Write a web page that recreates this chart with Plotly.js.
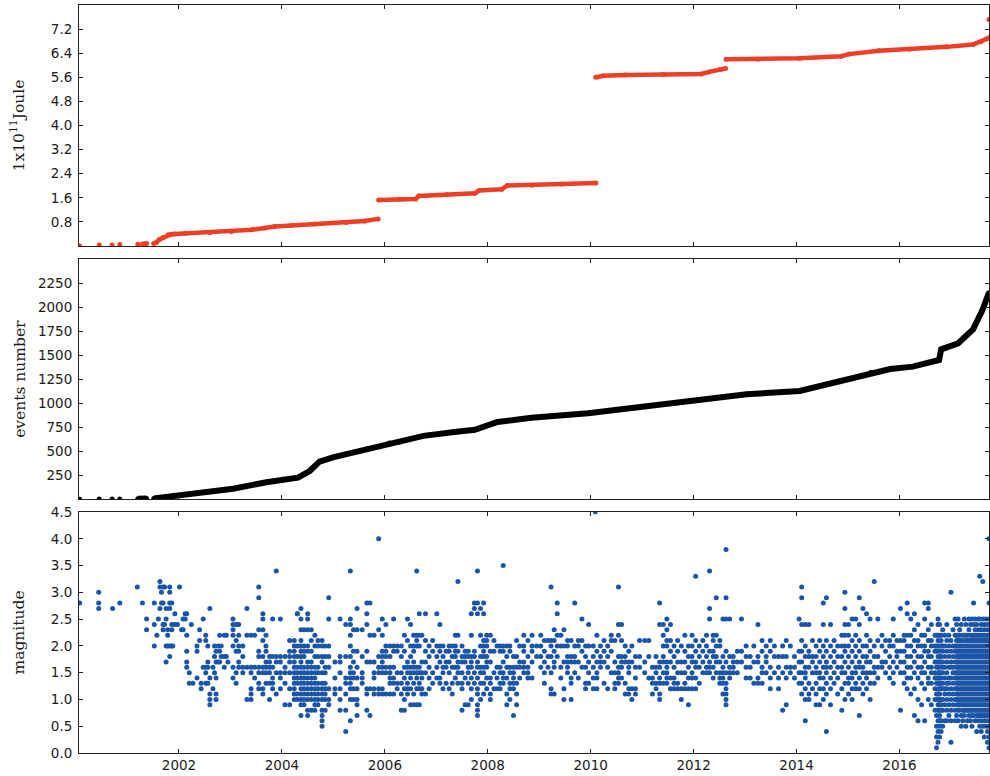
<!DOCTYPE html>
<html>
<head>
<meta charset="utf-8">
<script src="https://cdn.plot.ly/plotly-3.0.1.min.js"></script>
<style>html,body{margin:0;padding:0;background:#fff}#chart{width:990px;height:776px}</style>
</head>
<body>
<div id="chart"></div>
<script>
// ---- x axis ticks (years) ----
const xTickYears = [2002, 2004, 2006, 2008, 2010, 2012, 2014, 2016];
const energyTicks = [0.8, 1.6, 2.4, 3.2, 4.0, 4.8, 5.6, 6.4, 7.2];
const eventsTicks = [250, 500, 750, 1000, 1250, 1500, 1750, 2000, 2250];
const magTicks = [0.0, 0.5, 1.0, 1.5, 2.0, 2.5, 3.0, 3.5, 4.0, 4.5];

// ---- cumulative energy (1x10^11 Joule) ----
const energyYear = [2000.07,null,2000.45,null,2000.70,null,2000.85,null,2001.20,null,2001.29,2001.37,null,
  2001.51,2001.56,2001.62,2001.69,2001.79,2001.85,2001.92,2002.12,2002.60,2003.02,2003.41,2003.67,2003.86,2004.19,2004.64,2005.25,2005.61,2005.87,null,
  2005.88,2006.29,2006.60,2006.66,2007.20,2007.75,2007.83,2008.27,2008.38,2008.86,2009.44,2010.10,null,
  2010.10,2010.25,2010.68,2011.41,2012.15,2012.30,2012.52,2012.62,null,
  2012.63,2013.25,2014.06,2014.87,2015.02,2015.60,2016.19,2016.92,2017.43,2017.58,2017.69,2017.74,null,
  2017.74];
const energyValue = [0.00,null,0.03,null,0.03,null,0.05,null,0.06,null,0.07,0.08,null,
  0.08,0.12,0.22,0.28,0.37,0.39,0.40,0.42,0.45,0.48,0.54,0.60,0.65,0.68,0.73,0.78,0.83,0.90,null,
  1.53,1.55,1.56,1.66,1.70,1.75,1.84,1.88,2.01,2.02,2.06,2.09,null,
  5.60,5.65,5.68,5.69,5.71,5.78,5.86,5.89,null,
  6.20,6.20,6.23,6.30,6.37,6.48,6.53,6.61,6.69,6.78,6.87,6.91,null,
  7.52];

// ---- cumulative events number ----
const eventsYear = [2000.07,null,2000.45,null,2000.70,null,2000.85,null,2001.20,2001.29,2001.37,null,
  2001.51,2001.70,2001.88,2002.40,2003.05,2003.70,2004.02,2004.31,2004.54,2004.73,2004.99,2005.25,2005.64,2005.90,2006.09,2006.29,
  2006.75,2007.39,2007.75,2008.19,2008.85,2009.95,2011.05,2012.15,2013.03,2014.06,2014.57,2015.45,2015.82,2016.26,2016.77,
  2016.81,2017.14,2017.43,2017.61,2017.74];
const eventsCount = [1,null,2,null,3,null,4,null,5,6,7,null,
  9,20,34,69,110,177,208,225,294,391,437,471,523,547,586,597,
  660,703,723,804,849,895,964,1033,1092,1127,1196,1321,1356,1380,1449,
  1560,1623,1768,1966,2150];

// ---- magnitudes: [decimal year, [magnitudes of events at that time]] ----
const mag2000to2003 = [
  [2000.07,[2.8]],[2000.44,[3.0,2.8,2.7]],[2000.71,[2.7]],[2000.85,[2.8]],[2001.19,[3.1]],[2001.29,[2.8]],
  [2001.37,[2.5,2.3]],[2001.52,[2.8,2.4,2.0]],[2001.57,[2.2]],[2001.60,[2.5]],[2001.63,[3.2,3.1,2.7]],
  [2001.66,[3.0,2.8]],[2001.69,[3.1,2.8,2.4,2.3]],[2001.72,[3.1,2.4]],[2001.75,[2.7,2.5,2.0,1.7]],
  [2001.78,[2.3,2.2,2.0]],[2001.82,[3.1,3.0,2.8,2.7,2.0,1.8]],[2001.86,[2.8,2.4,2.3,2.0]],[2001.88,[2.0]],
  [2001.92,[2.6,2.4]],[2001.97,[2.4]],[2002.01,[3.1]],[2002.05,[2.3]],[2002.08,[2.5,2.3]],[2002.12,[2.6,2.5]],
  [2002.15,[2.6,2.2,1.9,1.7,1.6]],[2002.20,[1.5,1.3]],[2002.24,[2.4]],[2002.27,[1.3]],[2002.35,[2.0,1.9,1.4]],
  [2002.40,[2.3,2.1]],[2002.43,[1.3,1.2]],[2002.47,[2.5,1.6]],[2002.52,[2.2,2.1,1.6,1.5,1.3]],
  [2002.56,[2.0,1.7,1.6,1.3]],[2002.60,[2.7,1.4,1.1,1.0,0.9]],[2002.66,[1.6,1.2]],[2002.69,[2.0,1.8,1.5]],
  [2002.72,[1.9,1.7,1.4,1.1,1.0]],[2002.76,[2.0,1.7]],[2002.79,[2.2,1.9,1.7]],[2002.82,[2.0,1.8]],
  [2002.88,[2.2,1.8,1.6]],[2002.92,[2.2,1.8]],[2002.95,[1.7]]
];
const mag2003to2006 = [
  [2003.05,[2.3,2.5,2.4,2.2,2.0,1.6,1.4]],[2003.11,[2.4,2.1,1.9,1.5,1.3]],[2003.16,[2.4,2.2,2.0,1.9,1.7,1.6]],
  [2003.24,[2.0,1.8,1.6,1.5]],[2003.32,[2.7,2.2,1.6,1.0]],[2003.40,[2.2,1.6,1.5,1.2,1.1,1.0]],[2003.47,[2.2,1.6,1.4]],
  [2003.55,[3.1,2.9,2.3,1.9,1.8,1.6,1.5,1.3,1.2]],[2003.63,[2.6,2.5,2.3,2.1,1.8,1.6,1.5,1.2,1.1]],
  [2003.69,[2.2,2.0,1.9,1.7,1.6,1.5,1.3]],[2003.76,[1.8,1.7,1.6,1.5,1.3,1.0]],[2003.82,[2.5,1.8,1.6,1.4,1.3,1.2]],
  [2003.89,[3.4,1.8,1.7,1.5,1.1]],[2003.97,[1.8,1.7,1.5,1.2,2.5,1.4]],[2004.06,[1.8,1.5,1.3,0.9,1.6]],
  [2004.15,[2.1,1.9,1.8,1.5,1.2,0.9,1.7]],
  [2004.24,[2.1,2.0,1.9,1.8,1.7,1.6,1.5,1.4,1.3,1.2,1.1,1.0]],[2004.30,[2.6,2.6,2.0,1.8,1.6,1.5,1.4,1.3,1.1,1.0]],
  [2004.37,[2.7,2.5,2.3,2.1,2.0,1.9,1.8,1.7,1.6,1.5,1.4,1.3,1.2,1.1,1.0,0.9,0.7]],
  [2004.43,[2.3,2.0,1.9,1.8,1.6,1.5,1.4,1.3,1.2,1.1,1.0,0.9]],
  [2004.50,[2.6,2.5,2.3,2.0,1.9,1.7,1.6,1.5,1.4,1.3,1.2,1.1,1.0,0.8,0.7]],
  [2004.57,[2.3,2.1,1.9,1.7,1.6,1.5,1.4,1.3,1.2,1.1,1.0,0.8]],
  [2004.64,[2.2,2.0,1.8,1.6,1.5,1.4,1.3,1.2,1.1,1.0,0.9,0.8]],[2004.70,[2.1,2.0,1.8,1.6,1.5,1.3,1.2,1.1,1.0,0.9]],
  [2004.78,[2.1,2.0,1.8,1.7,1.5,1.3,1.2,1.1,1.0,0.8,0.7,0.6,0.5]],[2004.84,[2.0,1.8,1.6,1.5,1.3,1.2,1.1,1.0,0.8]],
  [2004.91,[2.9,2.5,2.0,1.8,1.6,1.2,1.0,0.9]],[2005.03,[1.7,1.4,1.2,1.1]],
  [2005.13,[2.5,1.8,1.7,1.5,1.2,1.0,0.8]],[2005.24,[2.4,1.8,1.4,1.3,1.1,0.8,0.4]],
  [2005.33,[3.4,2.5,2.4,2.2,2.0,1.8,1.6,1.5,1.4,1.3,1.2,1.0,0.6]],[2005.39,[2.3,1.9,1.7,1.5,1.4,1.2,1.0]],
  [2005.46,[2.7,2.3,1.9,1.6,1.4,1.2,1.0,0.9,0.7]],[2005.56,[2.3,1.8,1.5,1.4,1.3]],
  [2005.65,[2.8,2.6,2.4,1.9,1.7,1.2,1.1,0.8]],[2005.71,[2.8,2.2,1.7,1.2,0.7]],
  [2005.79,[2.2,1.7,1.5,1.4,1.2,1.1]],[2005.88,[4.0,2.3,1.8,1.6,1.5,1.2,1.1]],
  [2005.95,[2.5,2.2,1.9,1.8,1.7,1.6,1.5,1.2,1.1]],[2006.02,[2.4,2.0,1.9,1.8,1.6,1.5,1.1]],
  [2006.10,[2.0,1.8,1.6,1.5,1.4,1.3,1.1]],[2006.17,[2.5,2.0,1.9,1.6,1.4,1.3,1.1]],[2006.24,[2.0,1.9,1.5,1.3,1.2]]
];
const mag2006to2010 = [
  [2006.32,[2.0,1.8,1.5,1.3,1.1,0.8]],[2006.38,[2.2,1.9,1.6,1.4,1.2,1.0,0.8]],[2006.44,[2.5,2.1,1.7,1.6,1.5,1.3,1.2,1.1]],
  [2006.50,[2.4,2.0,1.8,1.6,1.5,1.4,1.2,0.9]],[2006.56,[2.2,2.0,1.9,1.7,1.6,1.5,1.3,1.1,0.9]],
  [2006.62,[3.4,2.2,2.1,2.0,1.6,1.5,1.4,1.2,0.9]],[2006.67,[2.6,2.2,2.0,1.6,1.5,1.3,1.2,0.9]],[2006.72,[2.2,1.7,1.5,1.4,1.2,1.1]],
  [2006.79,[2.6,2.1,1.9,1.7,1.5,1.1]],[2006.86,[2.0,1.8,1.6,1.4,1.2]],[2006.93,[2.1,1.9,1.5,1.3]],[2007.01,[2.6,2.0,1.8,1.6,1.4]],
  [2007.07,[2.4,2.0,1.9,1.7,1.4,1.3]],[2007.13,[2.0,1.8,1.6,1.5,1.2]],[2007.19,[1.9,1.7,1.6,1.3]],[2007.25,[2.0,1.9,1.7,1.5,1.2]],
  [2007.31,[2.0,1.8,1.6,1.3,1.1]],[2007.37,[2.2,2.0,1.9,1.8,1.6,1.4]],[2007.42,[3.2,2.2,1.9,1.7,1.6,1.5,1.3]],
  [2007.50,[2.0,1.8,1.7,1.5,1.3,1.2,0.8]],[2007.56,[1.9,1.8,1.7,1.4,0.9]],[2007.62,[1.9,1.8,1.6,1.5,1.3,0.9]],
  [2007.68,[2.6,2.2,1.8,1.7,1.6,1.4,1.2,1.0]],[2007.74,[2.8,2.7,1.9,1.8,1.5,1.3]],
  [2007.80,[3.4,2.8,2.6,1.7,1.6,1.4,1.2,1.1,0.9,0.8,0.7]],[2007.86,[2.7,2.2,2.0,1.8,1.6,1.5,1.3,1.0]],
  [2007.92,[2.8,2.6,2.1,2.0,1.9,1.8,1.6,1.5,1.3,1.1]],[2007.98,[2.2,2.1,2.0,1.8,1.7,1.6,1.4,1.2]],
  [2008.05,[2.2,1.9,1.7,1.4,1.3,1.1,1.0]],[2008.12,[2.1,1.9,1.5,1.2]],[2008.18,[2.0,1.6,1.4,1.2]],
  [2008.24,[2.0,1.9,1.6,1.5,1.3,1.2]],[2008.30,[3.5,2.0,1.9,1.7,1.5,1.4,1.3]],[2008.37,[2.0,1.8,1.6,1.4,1.1,0.9]],
  [2008.43,[2.0,1.9,1.6,1.5,1.3,1.2,1.0]],[2008.50,[1.8,1.6,1.5,1.4,1.3,1.2,0.7]],[2008.56,[2.1,1.8,1.6,1.3,1.1,0.9]],
  [2008.62,[2.0,1.7,1.6,1.4]],[2008.70,[2.2,2.0,1.9,1.7,1.6,1.5]],[2008.78,[2.1,1.8,1.6,1.5,1.4]],
  [2008.86,[2.2,2.0,1.9,1.7,1.4]],[2008.95,[2.0,1.8]],[2009.03,[2.2,2.0,1.8,1.6]],[2009.10,[2.1,1.9,1.7,1.5,1.3]],
  [2009.17,[2.1,1.8,1.6]],[2009.23,[3.1,2.1,2.0,1.8,1.5,1.2,1.1]],[2009.29,[2.3,2.1,1.9,1.7,1.6,1.1]],
  [2009.35,[2.8,2.6,2.2,2.0,1.8]],[2009.42,[2.2,2.0,1.6,1.4]],[2009.48,[2.3,2.0,1.7,1.2,1.0]],
  [2009.55,[2.1,2.0,1.8,1.7,1.6,1.5]],[2009.62,[2.1,1.8,1.7,1.4,1.3,1.0]],[2009.69,[2.8,2.0,1.8,1.7,1.5]],
  [2009.76,[2.1,2.0,1.7,1.4]],[2009.83,[2.5,2.1,1.9,1.6]],[2009.90,[2.0,1.8,1.6,1.3,1.2]],[2009.96,[2.4,2.0,1.7,1.5,1.3]]
];
const mag2010to2014 = [
  [2010.05,[2.0,1.8,1.6,1.4,1.2]],[2010.09,[4.5]],[2010.12,[2.2,1.9,1.7,1.5,1.4,1.2]],[2010.19,[2.0,1.8,1.7,1.6]],
  [2010.26,[2.1,1.9,1.7,1.3]],[2010.33,[2.0,1.8,1.6,1.2]],[2010.40,[2.2,2.1,1.9,1.5]],[2010.47,[2.1,1.7,1.5,1.3,1.2]],
  [2010.54,[3.1,2.4,2.2,1.8,1.6,1.5,1.4,1.3]],[2010.60,[2.4,2.1,1.8,1.7,1.6,1.4]],[2010.67,[2.0,1.8,1.7,1.3,1.1]],
  [2010.74,[1.9,1.7,1.6,1.5,1.2,1.1]],[2010.80,[2.0,1.7,1.2,1.0]],[2010.87,[1.8,1.6,1.4,1.2,1.1]],[2010.95,[2.1,1.8,1.6]],
  [2011.05,[2.1,1.7,1.5]],[2011.13,[2.1,1.8,1.4]],[2011.20,[1.6,1.4,1.3,1.1]],[2011.27,[1.8,1.6,1.5,1.3,1.2]],
  [2011.34,[2.8,2.4,1.7,1.6,1.4,1.3,1.1,1.0]],[2011.41,[2.4,2.2,2.0,1.8,1.7,1.5,1.3]],
  [2011.48,[2.5,2.3,2.1,2.0,1.7,1.6,1.5,1.4,1.3]],[2011.55,[2.4,2.1,1.9,1.7,1.4,1.2]],[2011.62,[2.0,1.8,1.6,1.4,1.3,1.2]],
  [2011.69,[2.1,1.9,1.7,1.5,1.3,1.2]],[2011.76,[2.0,1.7,1.5,1.2,1.0]],[2011.83,[2.2,1.9,1.7,1.5,1.3,1.2]],
  [2011.90,[2.0,1.8,1.6,1.4,1.2,0.9]],[2011.97,[2.2,2.0,1.8,1.7,1.5,1.4,1.2]],[2012.04,[3.3,2.1,1.9,1.7,1.6,1.4,1.2]],
  [2012.11,[2.0,1.8,1.6,1.3]],[2012.18,[2.1,1.9,1.7,1.5]],[2012.25,[2.2,2.0,1.8,1.6,1.5]],
  [2012.31,[3.4,2.7,2.5,1.9,1.7,1.6,1.5]],[2012.38,[2.2,2.1,1.9,1.8,1.6,1.4]],[2012.44,[2.9,2.2,2.0,1.8,1.7,1.5]],
  [2012.51,[2.1,2.0,1.7,1.5,1.4,1.3]],[2012.57,[2.5,1.8,1.6,1.5,1.4,1.3,1.1]],
  [2012.63,[3.8,2.9,2.5,1.9,1.7,1.5,1.3,1.2,1.1,1.0,0.9]],[2012.70,[2.5,1.8,1.6,1.5,1.4]],[2012.77,[1.8,1.7,1.6,1.5]],
  [2012.85,[1.9,1.7,1.5]],[2012.93,[2.5,1.9,1.7]],[2013.02,[2.0,1.8,1.6,1.4]],[2013.10,[1.8,1.6,1.4]],
  [2013.17,[2.0,1.7,1.3]],[2013.25,[2.4,1.8,1.7,1.4,1.3]],[2013.33,[2.1,1.9,1.6,1.5,1.3]],[2013.41,[2.0,1.8,1.7,1.5]],
  [2013.49,[2.1,1.9,1.6,1.4,1.2]],[2013.57,[2.0,1.8,1.5]],[2013.65,[1.8,1.6,1.4,1.2]],[2013.73,[2.0,1.8,1.5,0.8]],
  [2013.80,[2.1,1.8,1.6,1.4,0.9]],[2013.88,[2.0,1.6,1.5]],[2013.96,[1.8,1.6,1.4]]
];
const mag2014to2016 = [
  [2014.05,[2.5,1.9,1.7,1.5,1.3]],[2014.10,[3.1,2.9,2.4,2.1,1.9,1.7,1.5,1.3,1.1]],
  [2014.17,[2.4,2.0,1.8,1.6,1.5,1.4,1.2,1.0,0.6]],[2014.24,[2.4,1.9,1.8,1.6,1.3,1.1,1.0]],[2014.31,[2.1,1.8,1.7,1.5,1.2]],
  [2014.38,[2.0,1.8,1.6,1.5,1.3,1.1,0.9]],[2014.45,[2.1,1.9,1.7,1.5,1.4,1.2,0.9]],
  [2014.52,[2.8,2.4,2.0,1.8,1.6,1.4,1.2,1.0]],[2014.58,[2.9,2.1,1.9,1.7,1.6,1.5,1.3,1.1,0.4]],
  [2014.66,[2.4,2.0,1.8,1.6,1.4,1.2,0.9]],[2014.73,[2.1,1.9,1.7,1.5,1.3]],[2014.80,[2.0,1.8,1.6,1.4,1.1]],
  [2014.88,[2.2,2.0,1.8,1.6,1.5,1.2,0.8]],[2014.94,[3.0,2.7,2.4,2.2,2.0,1.9,1.7,1.5,1.3,1.0]],
  [2015.01,[2.4,2.2,2.0,1.8,1.6,1.4,1.3,1.1]],[2015.08,[2.5,2.1,1.9,1.7,1.5,1.4,1.2,1.0]],
  [2015.15,[2.5,2.2,2.0,1.8,1.6,1.5,1.3,1.2]],[2015.22,[2.9,2.4,2.1,1.9,1.7,1.6,1.4,1.2,0.7]],
  [2015.29,[2.7,2.0,1.8,1.6,1.5,1.3,1.1]],[2015.36,[2.6,2.2,2.0,1.8,1.7,1.5,1.4,1.2]],
  [2015.43,[2.5,2.1,1.9,1.7,1.5,1.3,1.0]],[2015.51,[3.2,2.0,1.8,1.6,1.5,1.3]],[2015.58,[2.5,2.1,1.8,1.6,1.4]],
  [2015.66,[2.2,2.0,1.7,1.6]],[2015.73,[2.1,1.9,1.7,1.5]],[2015.81,[2.1,2.0,1.8,1.6,1.4]],
  [2015.88,[2.5,2.2,2.0,1.7,1.5,1.3]],[2015.95,[2.1,1.9,1.8,1.6]],[2016.02,[2.7,2.1,1.9,1.7,1.5,0.8]],
  [2016.09,[2.2,2.1,1.9,1.7,1.5,1.3]],[2016.15,[2.8,2.6,2.2,2.0,1.8,1.6,1.4,1.2]],
  [2016.22,[2.5,2.2,2.0,1.8,1.6,1.4,1.1]],[2016.29,[2.6,2.3,2.1,1.9,1.7,1.5,1.2,0.7]],
  [2016.36,[2.4,2.1,2.0,1.8,1.6,1.4,1.0,0.6]],[2016.43,[2.2,2.0,1.8,1.6,1.5,1.3,0.9]],
  [2016.49,[2.8,2.5,2.2,2.0,1.9,1.7,1.5,1.2,0.6]],[2016.56,[2.8,2.7,2.3,2.1,1.9,1.8,1.6,1.4,1.3,1.0]],
  [2016.62,[2.4,2.1,2.0,1.8,1.6,1.5,1.3,0.9]],[2016.69,[2.2,2.0,1.9,1.7,1.5,1.4,1.2,1.0,0.8]]
];
const mag2016to2017 = [
  [2016.72,[2.2,2.0,1.9,1.7,1.6,1.4,1.3,1.1,1.0,0.7,0.5,0.3,0.1]],
  [2016.75,[2.5,2.4,2.2,2.1,2.0,1.8,1.7,1.6,1.5,1.4,1.3,1.2,1.1,1.0,0.9,0.8,0.6,0.4,0.2]],
  [2016.78,[2.4,2.2,2.0,1.9,1.8,1.7,1.6,1.5,1.4,1.3,1.2,1.1,1.0,0.9,0.8,0.7,0.6,0.5,0.3]],
  [2016.81,[2.2,2.1,2.0,1.8,1.7,1.5,1.4,1.3,1.2,1.0,0.9,0.8,0.6,0.4]],
  [2016.84,[2.3,2.0,1.9,1.7,1.6,1.5,1.3,1.2,1.0,0.8,0.5]],
  [2016.88,[2.2,2.0,1.8,1.6,1.4,1.2,1.1,0.9,0.6]],
  [2016.92,[2.4,2.1,1.9,1.7,1.5,1.3,1.2,1.0,0.8,0.6]],
  [2016.96,[2.2,2.0,1.8,1.6,1.4,1.3,1.1,0.9,0.7]],
  [2017.00,[3.0,2.1,1.9,1.7,1.6,1.4,1.2,1.0,0.8,0.6,0.2]],
  [2017.04,[2.3,2.0,1.8,1.6,1.5,1.3,1.1,0.9]],
  [2017.08,[2.5,2.2,2.0,1.9,1.7,1.5,1.4,1.2,1.0,0.8,0.6]],
  [2017.11,[2.4,2.2,2.1,2.0,1.9,1.8,1.7,1.6,1.5,1.4,1.3,1.2,1.1,1.0,0.9,0.7]],
  [2017.14,[2.5,2.2,2.1,2.0,1.9,1.8,1.7,1.6,1.5,1.4,1.3,1.2,1.1,1.0,0.9,0.8,0.6]],
  [2017.17,[2.3,2.2,2.1,2.0,1.9,1.8,1.7,1.6,1.5,1.4,1.3,1.2,1.1,1.0,0.9,0.8]],
  [2017.20,[2.4,2.1,2.0,1.9,1.8,1.7,1.6,1.5,1.4,1.3,1.2,1.1,1.0,0.9,0.7,0.5]],
  [2017.23,[2.2,2.1,2.0,1.9,1.8,1.7,1.6,1.5,1.4,1.3,1.2,1.1,1.0,0.9,0.8,0.6]],
  [2017.26,[2.5,2.2,2.0,1.9,1.8,1.7,1.6,1.5,1.4,1.3,1.2,1.1,1.0,0.9,0.8,0.7]],
  [2017.29,[2.4,2.2,2.1,2.0,1.9,1.8,1.7,1.6,1.5,1.4,1.3,1.2,1.1,1.0,0.9,0.8,0.5]],
  [2017.32,[2.2,2.1,2.0,1.9,1.8,1.7,1.6,1.5,1.4,1.3,1.2,1.1,1.0,0.9,0.8,0.6]],
  [2017.35,[2.5,2.3,2.1,2.0,1.9,1.8,1.7,1.6,1.5,1.4,1.3,1.2,1.1,1.0,0.9,0.8,0.7]],
  [2017.38,[2.4,2.2,2.1,2.0,1.9,1.8,1.7,1.6,1.5,1.4,1.3,1.2,1.1,1.0,0.9,0.8,0.6]],
  [2017.41,[2.5,2.2,2.1,2.0,1.9,1.8,1.7,1.6,1.5,1.4,1.3,1.2,1.1,1.0,0.9,0.8,0.7,0.5]],
  [2017.44,[2.8,2.4,2.2,2.1,2.0,1.9,1.8,1.7,1.6,1.5,1.4,1.3,1.2,1.1,1.0,0.9,0.8,0.7]],
  [2017.47,[2.5,2.3,2.2,2.1,2.0,1.9,1.8,1.7,1.6,1.5,1.4,1.3,1.2,1.1,1.0,0.9,0.8,0.6]],
  [2017.50,[2.4,2.2,2.1,2.0,1.9,1.8,1.7,1.6,1.5,1.4,1.3,1.2,1.1,1.0,0.9,0.8,0.7,0.4]],
  [2017.53,[2.5,2.3,2.2,2.1,2.0,1.9,1.8,1.7,1.6,1.5,1.4,1.3,1.2,1.1,1.0,0.9,0.8,0.7,0.6]],
  [2017.56,[3.3,2.5,2.2,2.1,2.0,1.9,1.8,1.7,1.6,1.5,1.4,1.3,1.2,1.1,1.0,0.9,0.8,0.7,0.5]],
  [2017.59,[2.4,2.3,2.2,2.1,2.0,1.9,1.8,1.7,1.6,1.5,1.4,1.3,1.2,1.1,1.0,0.9,0.8,0.7,0.6,0.4]],
  [2017.62,[3.2,2.5,2.2,2.1,2.0,1.9,1.8,1.7,1.6,1.5,1.4,1.3,1.2,1.1,1.0,0.9,0.8,0.7,0.5]],
  [2017.65,[2.4,2.3,2.2,2.1,2.0,1.9,1.8,1.7,1.6,1.5,1.4,1.3,1.2,1.1,1.0,0.9,0.8,0.7,0.6,0.3]],
  [2017.68,[2.5,2.2,2.1,2.0,1.9,1.8,1.7,1.6,1.5,1.4,1.3,1.2,1.1,1.0,0.9,0.8,0.7,0.5]],
  [2017.71,[2.4,2.3,2.2,2.1,2.0,1.9,1.8,1.7,1.6,1.5,1.4,1.3,1.2,1.1,1.0,0.9,0.8,0.7,0.6,0.4,0.2]],
  [2017.74,[4.0,2.8,2.5,2.2,2.1,2.0,1.9,1.8,1.7,1.6,1.5,1.4,1.3,1.2,1.1,1.0,0.9,0.8,0.7,0.5,0.3,0.1]]
];

// ---- build magnitude trace from the columns ----
const magTime = [], magValue = [];
[mag2000to2003, mag2003to2006, mag2006to2010, mag2010to2014, mag2014to2016, mag2016to2017].forEach(group => {
  group.forEach(([t, ms]) => ms.forEach(m => { magTime.push(t); magValue.push(m); }));
});

const RED = '#ef3e26', BLUE = '#1d55a6', AX = '#222222';
const xRange = [2000.057, 2017.74];
const tickFont = {family: 'DejaVu Sans, sans-serif', size: 13.5, color: '#1a1a1a'};
const titleFont = {family: 'DejaVu Serif, serif', size: 15.5, color: '#1a1a1a'};

const traces = [
  {x: energyYear, y: energyValue, xaxis: 'x', yaxis: 'y', type: 'scatter', mode: 'lines+markers',
   line: {color: RED, width: 4.5}, marker: {color: RED, size: 5}, connectgaps: false, hoverinfo: 'x+y'},
  {x: eventsYear, y: eventsCount, xaxis: 'x2', yaxis: 'y2', type: 'scatter', mode: 'lines+markers',
   line: {color: '#000', width: 6}, marker: {color: '#000', size: 5}, connectgaps: false},
  {x: magTime, y: magValue, xaxis: 'x3', yaxis: 'y3', type: 'scatter', mode: 'markers',
   marker: {color: BLUE, size: 5, line: {width: 0}}}
];

function xAxis(anchor, labels) {
  return {anchor: anchor, domain: [0, 1], range: xRange, tickmode: 'array', tickvals: xTickYears,
    tickformat: 'd', showticklabels: labels, ticks: 'inside', ticklen: 4, tickwidth: 1, tickcolor: AX,
    showline: true, linecolor: AX, linewidth: 1, mirror: 'ticks', showgrid: false, zeroline: false,
    tickfont: tickFont};
}
function yAxis(anchor, domain, range, ticks, fmt, title, standoff) {
  return {anchor: anchor, domain: domain, range: range, tickmode: 'array', tickvals: ticks, tickformat: fmt,
    ticks: 'inside', ticklen: 4, tickwidth: 1, tickcolor: AX, showline: true, linecolor: AX, linewidth: 1,
    mirror: 'ticks', showgrid: false, zeroline: false, tickfont: tickFont, ticklabelstandoff: 3,
    title: {text: title, font: titleFont, standoff: standoff}};
}

const layout = {
  width: 990, height: 776, paper_bgcolor: '#fff', plot_bgcolor: '#fff', showlegend: false,
  margin: {l: 79, r: 1, t: 5, b: 23},
  xaxis: xAxis('y', false),
  xaxis2: xAxis('y2', false),
  xaxis3: xAxis('y3', true),
  yaxis: yAxis('x', [0.6778, 1], [0, 8], energyTicks, '.1f', '1x10<sup>11</sup>Joule', 22),
  yaxis2: yAxis('x2', [0.3392, 0.6604], [0, 2500], eventsTicks, 'd', 'events number', 8),
  yaxis3: yAxis('x3', [0, 0.3222], [0, 4.5], magTicks, '.1f', 'magnitude', 22)
};

Plotly.newPlot('chart', traces, layout, {displayModeBar: false, staticPlot: true});
</script>
</body>
</html>
